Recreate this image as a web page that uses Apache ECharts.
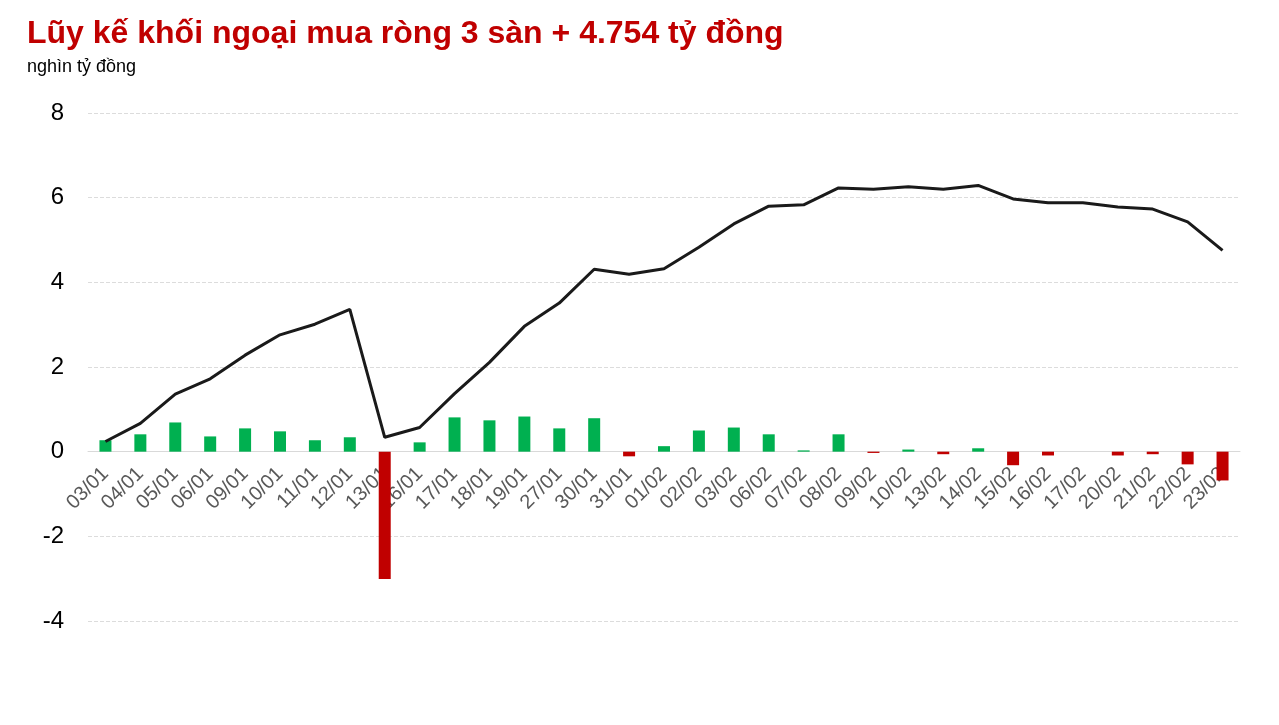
<!DOCTYPE html>
<html>
<head>
<meta charset="utf-8">
<script src="https://cdn.jsdelivr.net/npm/echarts@6/dist/echarts.min.js"></script>
<style>
html,body{margin:0;padding:0;background:#fff;}
#chart{width:1279px;height:725px;}
</style>
</head>
<body>
<div id="chart"></div>
<script>
const titleText = 'Lũy kế khối ngoại mua ròng 3 sàn + 4.754 tỷ đồng';
const unitText = 'nghìn tỷ đồng';
const categories = ['03/01','04/01','05/01','06/01','09/01','10/01','11/01','12/01','13/01','16/01','17/01','18/01','19/01','27/01','30/01','31/01','01/02','02/02','03/02','06/02','07/02','08/02','09/02','10/02','13/02','14/02','15/02','16/02','17/02','20/02','21/02','22/02','23/02'];
const dailyNet = [0.27,0.41,0.69,0.36,0.55,0.48,0.27,0.34,-3.01,0.22,0.81,0.74,0.83,0.55,0.79,-0.11,0.13,0.50,0.57,0.41,0.03,0.41,-0.03,0.05,-0.06,0.08,-0.32,-0.09,0.0,-0.09,-0.06,-0.30,-0.68];
const cumulative = [0.24,0.67,1.36,1.72,2.28,2.76,3.01,3.36,0.34,0.57,1.37,2.11,2.96,3.51,4.31,4.19,4.32,4.83,5.38,5.80,5.83,6.23,6.20,6.26,6.20,6.29,5.97,5.88,5.88,5.78,5.73,5.43,4.754];
const yTicks = {min:-4, max:8, interval:2};

const chart = echarts.init(document.getElementById('chart'));
const option = {
  backgroundColor:'#fff',
  animation:false,
  title:[
    {
      text:titleText, left:22, top:13,
      textStyle:{color:'#c00000', fontFamily:'Liberation Sans, Arial', fontWeight:'bold', fontSize:32}
    },
    {
      text:unitText, left:22, top:53,
      textStyle:{color:'#000', fontFamily:'Liberation Sans, Arial', fontWeight:'normal', fontSize:18}
    }
  ],
  grid:{left:88, right:39, top:113, bottom:104},
  xAxis:{
    type:'category',
    data:categories,
    offset:0,
    axisLine:{onZero:false, lineStyle:{color:'#d9d9d9', width:1}},
    axisTick:{show:false},
    axisLabel:{interval:0, rotate:45, color:'#595959', fontFamily:'Liberation Sans, Arial', fontSize:20, margin:19}
  },
  yAxis:{
    type:'value',
    min:yTicks.min, max:yTicks.max, interval:yTicks.interval,
    axisLine:{show:false}, axisTick:{show:false},
    axisLabel:{color:'#000', fontFamily:'Liberation Sans, Arial', fontSize:24, margin:24},
    splitLine:{lineStyle:{color:'#dcdcdc', type:'dashed', width:1}}
  },
  series:[
    {
      type:'bar',
      data:dailyNet,
      barWidth:12,
      itemStyle:{color:function(p){return p.value>=0?'#00b050':'#c00000';}}
    },
    {
      type:'line',
      data:cumulative,
      symbol:'none',
      lineStyle:{color:'#1a1a1a', width:3},
      z:5
    }
  ]
};
chart.setOption(option);
// place the category axis on the zero line of the value axis
const zeroPx = chart.convertToPixel({yAxisIndex:0}, 0);
const bottomPx = chart.convertToPixel({yAxisIndex:0}, yTicks.min);
chart.setOption({xAxis:{offset:-(bottomPx - zeroPx)}});
</script>
</body>
</html>
